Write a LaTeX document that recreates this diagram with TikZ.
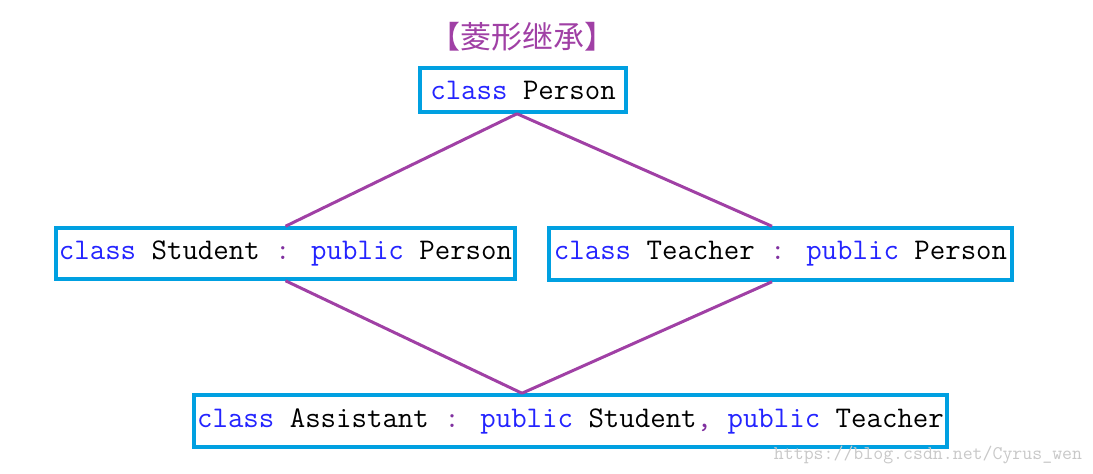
\documentclass[tikz,border=0pt]{standalone}
\usepackage{fontspec}
\newfontfamily\cjk{Noto Sans CJK SC}
\definecolor{boxcyan}{RGB}{0,160,225}
\definecolor{linepurple}{RGB}{160,64,165}
\definecolor{kwblue}{RGB}{36,36,255}
\definecolor{punct}{RGB}{128,48,160}
\definecolor{wmgray}{RGB}{200,200,200}
\newcommand{\kw}[1]{\textcolor{kwblue}{#1}}
\newcommand{\pc}[1]{\textcolor{punct}{#1}}
\begin{document}
\begin{tikzpicture}[x=1pt,y=-1pt,
  cls/.style={draw=boxcyan, line width=3.5pt, fill=white, rectangle, inner sep=0pt,
    font=\fontsize{30}{33}\selectfont\ttfamily, text=black},
  inh/.style={draw=linepurple, line width=3pt}]
\useasboundingbox (0,0) rectangle (1093,474);
\node[font=\cjk\fontsize{31}{34}\selectfont, text=linepurple] (title) at (522,37) {【菱形继承】};
\node[cls, minimum width=206pt, minimum height=44pt] (P) at (523,90) {\kw{class} Person};
\node[cls, minimum width=459pt, minimum height=51pt] (S) at (285.5,253.5) {\kw{class} Student \pc{:} \kw{public} Person};
\node[cls, minimum width=463pt, minimum height=52pt] (T) at (780.5,254) {\kw{class} Teacher \pc{:} \kw{public} Person};
\node[cls, minimum width=753pt, minimum height=52pt] (A) at (570.5,421) {\kw{class} Assistant \pc{:} \kw{public} Student\pc{,} \kw{public} Teacher};
\draw[inh] ([xshift=-6pt]P.south) -- (S.north);
\draw[inh] ([xshift=-6pt]P.south) -- ([xshift=-8.5pt]T.north);
\draw[inh] (S.south) -- ([xshift=-48.5pt]A.north);
\draw[inh] ([xshift=-8.5pt]T.south) -- ([xshift=-48.5pt]A.north);
\node[font=\fontsize{19.3}{21}\selectfont\ttfamily, text=wmgray] (wm) at (928,455) {https://blog.csdn.net/Cyrus\_wen};
\end{tikzpicture}
\end{document}
